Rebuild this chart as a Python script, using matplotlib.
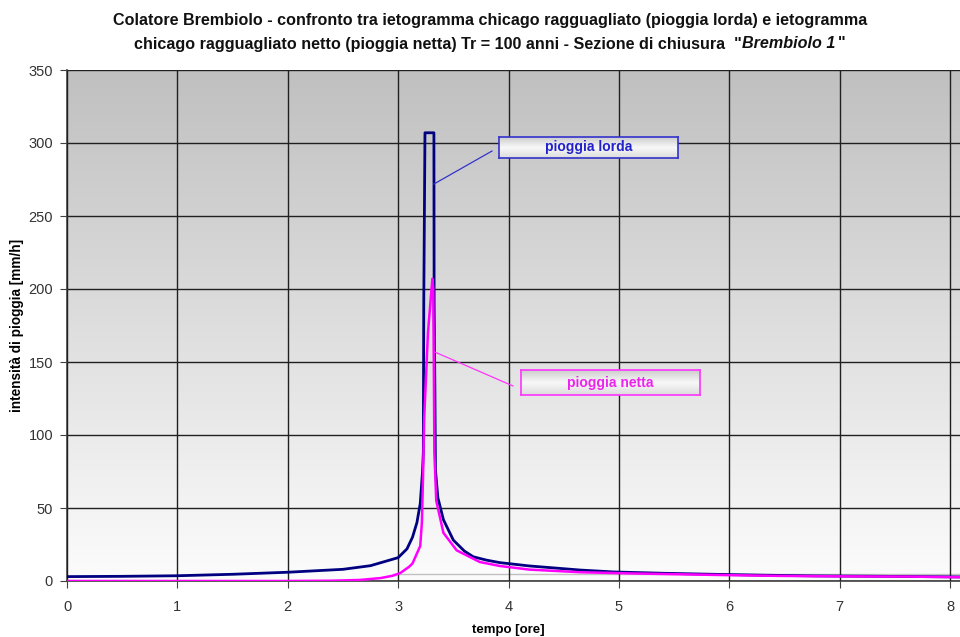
import numpy as np
import matplotlib
matplotlib.use("Agg")
import matplotlib.pyplot as plt

plt.rcParams['font.family'] = ['Liberation Sans', 'DejaVu Sans']

# ---- data ----
t_lorda = [0.0, 0.5, 1.0, 1.5, 2.0, 2.5, 2.75, 3.0, 3.08, 3.13, 3.17, 3.20, 3.22,
           3.228, 3.232, 3.243, 3.324, 3.326, 3.333, 3.338, 3.36, 3.41, 3.50, 3.60,
           3.68, 3.80, 3.92, 4.19, 4.65, 4.95, 5.4, 5.85, 6.3, 6.76, 7.2, 7.57, 8.1]
i_lorda = [3.0, 3.2, 3.6, 4.6, 6.0, 8.0, 10.5, 16.0, 22.0, 30.0, 40.0, 53.0, 74.0,
           88.0, 190.0, 307.0, 307.0, 190.0, 131.0, 76.0, 57.0, 42.0, 28.0, 20.5,
           16.6, 14.3, 12.6, 10.3, 7.5, 6.2, 5.3, 4.6, 4.0, 3.5, 3.3, 3.1, 2.8]

t_netta = [0.0, 1.0, 2.0, 2.4, 2.65, 2.84, 2.95, 3.02, 3.10, 3.13, 3.20, 3.215,
           3.225, 3.235, 3.27, 3.31, 3.318, 3.323, 3.328, 3.345, 3.41, 3.53, 3.74,
           3.92, 4.19, 4.65, 5.1, 5.55, 6.0, 6.46, 7.0, 7.66, 8.1]
i_netta = [0.0, 0.0, 0.0, 0.2, 0.7, 2.0, 3.6, 5.5, 9.8, 12.0, 24.0, 40.0,
           70.0, 110.0, 170.0, 207.0, 200.0, 150.0, 88.0, 55.0, 33.0, 21.0, 13.0,
           10.3, 7.8, 6.0, 5.2, 4.6, 4.0, 3.5, 3.2, 3.0, 2.6]

t_ref = [2.95, 8.1]
i_ref = [4.6, 4.6]

x_ticks = [0, 1, 2, 3, 4, 5, 6, 7, 8]
y_ticks = [0, 50, 100, 150, 200, 250, 300, 350]

title_1 = "Colatore Brembiolo - confronto tra ietogramma chicago ragguagliato (pioggia lorda) e ietogramma"
title_2a = "chicago ragguagliato netto (pioggia netta) Tr = 100 anni - Sezione di chiusura  \""
title_2b = "Brembiolo 1"
title_2c = "\""

# ---- figure ----
fig = plt.figure(figsize=(9.6, 6.37), dpi=100)
ax = fig.add_axes([67/960, 1-581/637, (960-67)/960, (581-70)/637])
ax.set_xlim(0, 8.09)
ax.set_ylim(0, 350)

# gradient background
grad = np.linspace(0, 1, 256).reshape(-1, 1)
cmap = matplotlib.colors.LinearSegmentedColormap.from_list('g', ['#fcfcfc', '#c0c0c0'])
ax.imshow(grad, aspect='auto', cmap=cmap, origin='lower',
          extent=[0, 8.09, 0, 350], zorder=0)

ax.set_xticks(x_ticks)
ax.set_yticks(y_ticks)
ax.grid(True, color='#202020', linewidth=1.0, zorder=1)
ax.set_axisbelow(False)

ax.plot(t_ref, i_ref, color='#c0c0c0', lw=1.0, zorder=2)
ax.plot(t_lorda, i_lorda, color='#000080', lw=2.0, zorder=3, solid_joinstyle='round')
ax.plot(t_netta, i_netta, color='#ff00ff', lw=1.8, zorder=4, solid_joinstyle='round')

for s in ['top', 'right']:
    ax.spines[s].set_visible(False)
ax.spines['left'].set_color('#404040')
ax.spines['bottom'].set_color('#404040')
ax.spines['left'].set_linewidth(1.2)
ax.spines['bottom'].set_linewidth(1.2)
ax.tick_params(axis='both', direction='out', length=5, color='#404040',
               labelsize=10.5, labelcolor='#333333')
ax.tick_params(axis='y', pad=5)
ax.tick_params(axis='x', pad=9)

ax.set_xlabel('tempo [ore]', fontsize=9.5, fontweight='bold')
ax.xaxis.set_label_coords((508-67)/893, -(624-581)/511)
ax.set_ylabel('intensità di pioggia [mm/h]', fontsize=9.8, fontweight='bold')
ax.yaxis.set_label_coords(-(67-24)/893, 0.5)

# title
tfs = 11.6
fig.text(490/960, 1-20/637, title_1, ha='center', va='center', fontsize=tfs,
         fontweight='bold', color='#111111')
fig.canvas.draw()
r = fig.canvas.get_renderer()
pa = fig.text(0, 1-44/637, title_2a, ha='left', va='center', fontsize=tfs,
              fontweight='bold', color='#111111')
pb = fig.text(0, 1-44/637, title_2b, ha='left', va='center', fontsize=tfs,
              fontweight='bold', style='italic', color='#111111')
pc = fig.text(0, 1-44/637, title_2c, ha='left', va='center', fontsize=tfs,
              fontweight='bold', color='#111111')
wa = pa.get_window_extent(r).width
wb = pb.get_window_extent(r).width
wc = pc.get_window_extent(r).width
total = wa + wb + wc + 3
x0 = 490 - total / 2
pa.set_x(x0 / 960)
pb.set_x((x0 + wa) / 960)
pc.set_x((x0 + wa + wb + 3) / 960)

# annotation boxes
def box(x0, y0, x1, y1, text, ec, tc):
    bax = fig.add_axes([x0/960, 1-y1/637, (x1-x0)/960, (y1-y0)/637])
    g = np.concatenate([np.linspace(0.80, 0.97, 50), np.linspace(0.97, 0.86, 50)]).reshape(-1, 1)
    bax.imshow(g, aspect='auto', cmap='gray', vmin=0, vmax=1, origin='upper')
    bax.set_xticks([]); bax.set_yticks([])
    for s in bax.spines.values():
        s.set_color(ec); s.set_linewidth(1.2)
    bax.text(0.5, 0.5, text, transform=bax.transAxes, ha='center', va='center',
             fontsize=10, fontweight='bold', color=tc)

box(499, 137, 678, 158, 'pioggia lorda', '#3333cc', '#2222cc')
box(521, 370, 700, 395, 'pioggia netta', '#ff33ff', '#ee22ee')

# leader lines (data coords)
ax.plot([3.85, 3.324], [294.5, 271.9], color='#3333cc', lw=0.9, zorder=5)
ax.plot([4.04, 3.333], [133.6, 156.8], color='#ff33ff', lw=0.9, zorder=5)

fig.savefig('out.png', dpi=100)
